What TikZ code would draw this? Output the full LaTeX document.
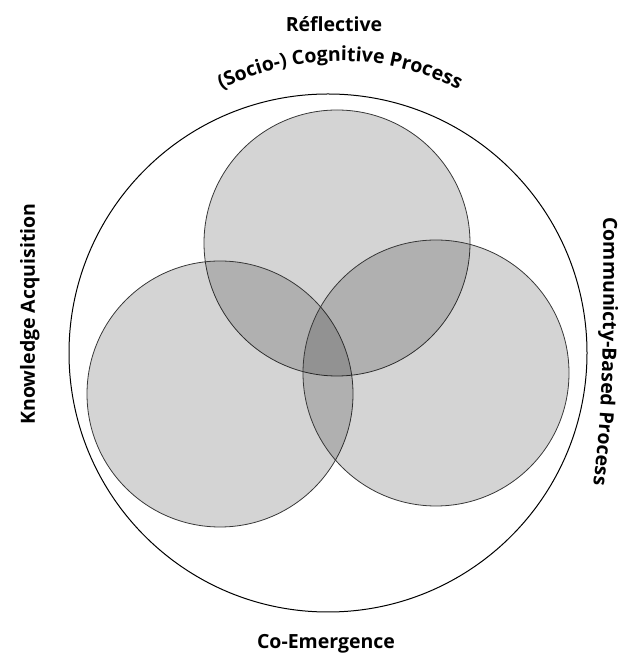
\documentclass[tikz,border=0pt]{standalone}
\usepackage{fontspec}
\setmainfont{Open Sans}
\usetikzlibrary{decorations.text}
\newcommand\lblfont{\fontsize{19.5}{22}\selectfont\bfseries}
\begin{document}
\begin{tikzpicture}[x=1pt, y=1pt,
  venn/.style={circle, draw=black!78, line width=.8pt, fill=black, fill opacity=.17, minimum size=266pt, inner sep=0pt},
  lbl/.style={font=\lblfont, inner sep=0pt, anchor=base}]
\useasboundingbox (0,0) rectangle (636,656);
\node[circle, draw, line width=1pt, minimum size=518pt, inner sep=0pt] (outer) at (328,303) {};

\foreach \n/\x/\y in {ref/337/413, kno/220/262, com/436/283}
{
    \node[venn] (\n) at (\x,\y) {};
}

\node[lbl] (refl) at (334,624) {Réflective};
\coordinate (arcc) at (340,334);
\path[decorate, decoration={text along path, text align=center, text={|\lblfont|(Socio-) Cognitive Process}}]
  (arcc) ++(140:261) arc[start angle=140, end angle=40, radius=261];
\node[lbl, rotate=90] (know) at (35,342) {Knowledge Acquisition};
\path[decorate, decoration={text along path, text align=center, text={|\lblfont|Communicty-Based Process}}]
  (603,462) .. controls (604,330) and (604,240) .. (590,148);
\node[lbl] (coem) at (326,7) {Co-Emergence};
\end{tikzpicture}
\end{document}
